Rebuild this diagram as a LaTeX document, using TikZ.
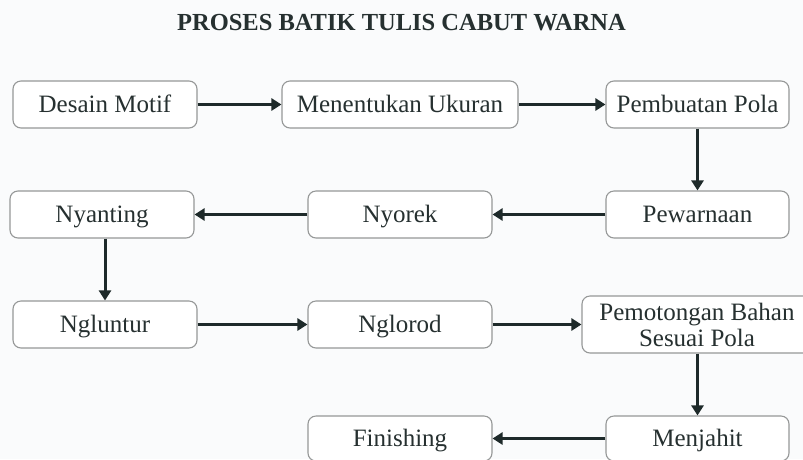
\documentclass[tikz,border=0pt]{standalone}
\usepackage{fontspec}
\setmainfont{Liberation Serif}
\usetikzlibrary{arrows.meta}

\definecolor{latar}{RGB}{250,251,252}
\definecolor{tinta}{RGB}{38,48,48}
\definecolor{panah}{RGB}{30,42,42}
\definecolor{garis}{RGB}{150,152,152}

\begin{document}
\begin{tikzpicture}[x=1pt,y=-1pt,
	kotak/.style={draw=garis,line width=1.1pt,rounded corners=8pt,fill=white,text=tinta,
		inner sep=0pt,minimum height=47pt,font=\fontsize{25}{26}\selectfont},
	tahap/.style={kotak,text height=22pt,text depth=5.5pt},
	alur/.style={-{Triangle[length=10pt,width=12pt]},line width=3pt,color=panah}]
	\fill[latar] (0,0) rectangle (803,459);
	\useasboundingbox (0,0) rectangle (803,459);

	\node[text=tinta,font=\bfseries\fontsize{24.5}{26}\selectfont] (judul) at (401.5,22.5) {PROSES BATIK TULIS CABUT WARNA};

	\node[tahap,minimum width=184pt] (n1) at (105,104.5) {Desain Motif};
	\node[tahap,minimum width=236pt] (n2) at (400,104.5) {Menentukan Ukuran};
	\node[tahap,minimum width=183pt] (n3) at (697.5,104.5) {Pembuatan Pola};

	\node[tahap,minimum width=183pt] (n4) at (697.5,214.5) {Pewarnaan};
	\node[tahap,minimum width=184pt] (n5) at (400,214.5) {Nyorek};
	\node[tahap,minimum width=184pt] (n6) at (102,214.5) {Nyanting};

	\node[tahap,minimum width=184pt] (n7) at (105,324.5) {Ngluntur};
	\node[tahap,minimum width=184pt] (n8) at (400,324.5) {Nglorod};
	\node[kotak,minimum width=230pt,minimum height=57pt,align=center] (n9) at (697,324.5) {Pemotongan Bahan\\Sesuai Pola};

	\node[tahap,minimum width=183pt,minimum height=45pt] (n10) at (697.5,438.5) {Menjahit};
	\node[tahap,minimum width=184pt,minimum height=45pt] (n11) at (400,438.5) {Finishing};

	\draw[alur] (n1) -- (n2);
	\draw[alur] (n2) -- (n3);
	\draw[alur] (n3) -- (n4);
	\draw[alur] (n4) -- (n5);
	\draw[alur] (n5) -- (n6);
	\draw[alur] (n6.south -| n7.north) -- (n7.north);
	\draw[alur] (n7) -- (n8);
	\draw[alur] (n8) -- (n9);
	\draw[alur] (n9.south -| n10.north) -- (n10.north);
	\draw[alur] (n10) -- (n11);

\end{tikzpicture}
\end{document}
